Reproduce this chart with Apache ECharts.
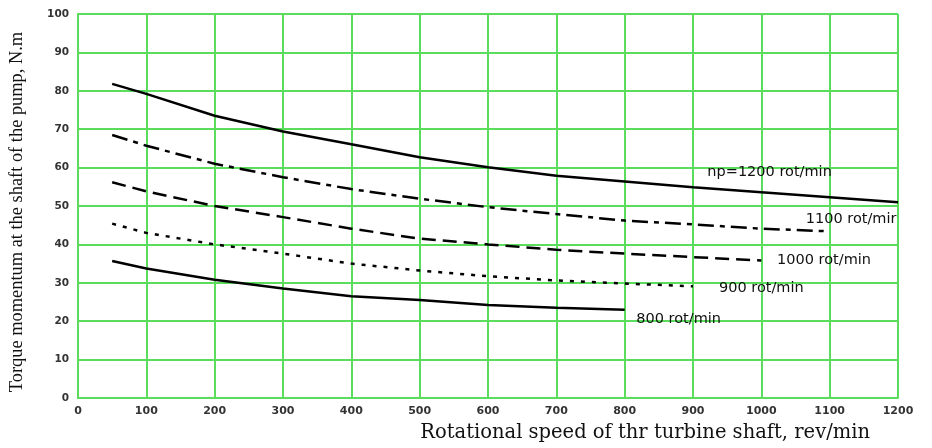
<!DOCTYPE html>
<html>
<head>
<meta charset="utf-8">
<script src="https://cdn.jsdelivr.net/npm/echarts@6/dist/echarts.min.js"></script>
<style>
  html, body { margin: 0; padding: 0; background: #fff; }
  #chart { width: 932px; height: 448px; }
</style>
</head>
<body>
<div id="chart"></div>
<script>
// rotational speed of the turbine shaft, rev/min
const speeds = [50, 100, 200, 300, 400, 500, 600, 700, 800, 900, 1000, 1100, 1200];

// torque momentum, N.m, one array per pump speed
const torque1200 = [81.8, 79.2, 73.5, 69.4, 66.1, 62.7, 60.1, 57.9, 56.4, 54.9, 53.6, 52.3, 51.0];
const torque1100 = [68.5, 65.7, 61.0, 57.5, 54.4, 51.9, 49.7, 47.9, 46.2, 45.2, 44.1, 43.4];
const torque1000 = [56.2, 53.8, 50.0, 47.1, 44.1, 41.5, 40.0, 38.6, 37.6, 36.7, 35.8];
const torque900  = [45.4, 43.0, 40.0, 37.6, 35.0, 33.2, 31.7, 30.6, 29.8, 29.1];
const torque800  = [35.7, 33.7, 30.8, 28.5, 26.5, 25.5, 24.2, 23.5, 23.0];

const curveNames = ['np=1200 rot/min', '1100 rot/mir', '1000 rot/min', '900 rot/min', '800 rot/min'];

const gridGreen = '#5cdc5c';

function pairs(vals) {
  return vals.map((v, i) => [speeds[i], v]);
}

// labelAt = left edge of the curve's caption, in data coordinates
function curve(name, vals, dash, labelAt) {
  return {
    name: name,
    type: 'line',
    data: pairs(vals),
    symbol: 'none',
    lineStyle: { color: '#000', width: 2.5, type: dash },
    silent: true,
    markPoint: {
      symbol: 'circle',
      symbolSize: 0,
      data: [{ coord: labelAt }],
      label: {
        show: true,
        formatter: name,
        position: 'right',
        distance: 0,
        color: '#111',
        fontFamily: 'DejaVu Sans',
        fontSize: 14.5
      }
    }
  };
}

const chart = echarts.init(document.getElementById('chart'));
chart.setOption({
  animation: false,
  backgroundColor: '#fff',
  grid: { left: 78, right: 34, top: 14, bottom: 50 },
  xAxis: {
    type: 'value',
    min: 0,
    max: 1200,
    interval: 100,
    name: 'Rotational speed of thr turbine shaft, rev/min',
    nameLocation: 'end',
    nameGap: -28,
    nameTextStyle: {
      align: 'right',
      verticalAlign: 'top',
      padding: [25, 0, 0, 0],
      fontFamily: 'DejaVu Serif',
      fontSize: 19.5,
      color: '#111'
    },
    axisLine: { show: true, lineStyle: { color: gridGreen, width: 2 } },
    axisTick: { show: false },
    axisLabel: {
      formatter: v => String(v),
      fontFamily: 'DejaVu Sans', fontSize: 11, fontWeight: 'bold', color: '#333', margin: 8
    },
    splitLine: { show: true, lineStyle: { color: gridGreen, width: 2 } }
  },
  yAxis: {
    type: 'value',
    min: 0,
    max: 100,
    interval: 10,
    name: 'Torque momentum at the shaft of the pump, N.m',
    nameLocation: 'middle',
    nameGap: 52,
    nameTextStyle: {
      fontFamily: 'Liberation Serif',
      fontSize: 18.4,
      color: '#111',
      padding: [0, 12, 0, 0]
    },
    axisLine: { show: true, lineStyle: { color: gridGreen, width: 2 } },
    axisTick: { show: false },
    axisLabel: { fontFamily: 'DejaVu Sans', fontSize: 10.5, fontWeight: 'bold', color: '#333', margin: 9 },
    splitLine: { show: true, lineStyle: { color: gridGreen, width: 2 } }
  },
  series: [
    curve(curveNames[0], torque1200, 'solid', [921, 58.8]),
    curve(curveNames[1], torque1100, [16, 6, 5, 6], [1065, 46.6]),
    curve(curveNames[2], torque1000, [14, 7], [1023, 36.0]),
    curve(curveNames[3], torque900, [4, 7], [938, 28.6]),
    curve(curveNames[4], torque800, 'solid', [817, 20.4])
  ]
});
</script>
</body>
</html>
